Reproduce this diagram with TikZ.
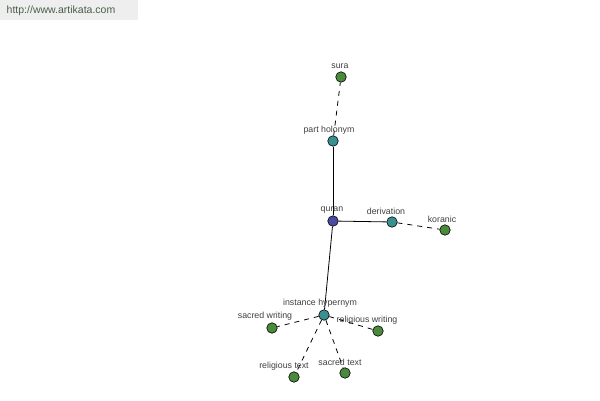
\documentclass[tikz,border=0pt]{standalone}
\usepackage{fontspec}
\setmainfont{Liberation Sans}
\usetikzlibrary{positioning}
\definecolor{qblue}{HTML}{4B4BA0}
\definecolor{qteal}{HTML}{3A9090}
\definecolor{qgreen}{HTML}{4A8A3A}
\definecolor{qtext}{HTML}{404040}
\definecolor{qhead}{HTML}{EEEEEE}
\definecolor{qurl}{HTML}{4A5E4A}
\tikzset{word/.style = {circle, draw=black, line width=0.6pt, minimum size=10.5pt, inner sep=0pt},
         lab/.style = {text=qtext, font=\fontsize{8.8}{10}\selectfont, inner sep=0pt},
         link/.style = {line width=0.8pt},
         loose/.style = {line width=0.8pt, dash pattern=on 5pt off 5pt}}

\begin{document}
\begin{tikzpicture}[x=1pt, y=-1pt]
    \useasboundingbox (0, 0) rectangle (600, 400);
    \fill [qhead] (0, 0) rectangle (138, 20);
    \node [text=qurl, font=\fontsize{10.5}{12}\selectfont] (url) at (61, 11) {http://www.artikata.com};

    \node [word, fill=qblue] (quran) at (333, 221) {};
    \node [word, fill=qteal] (part) at (333, 141) {};
    \node [word, fill=qgreen] (sura) at (341, 77) {};
    \node [word, fill=qteal] (deriv) at (392, 222) {};
    \node [word, fill=qgreen] (koranic) at (445, 230) {};
    \node [word, fill=qteal] (inst) at (324, 315) {};
    \node [word, fill=qgreen] (sacwri) at (272, 328) {};
    \node [word, fill=qgreen] (relwri) at (378, 331) {};
    \node [word, fill=qgreen] (reltxt) at (294, 377) {};
    \node [word, fill=qgreen] (sactxt) at (345, 373) {};

    \draw [link] (quran) -- (part);
    \draw [link] (quran) -- (deriv);
    \draw [link] (quran) -- (inst);
    \draw [loose] (part) -- (sura);
    \draw [loose] (deriv) -- (koranic);
    \draw [loose] (inst) -- (sacwri);
    \draw [loose] (inst) -- (relwri);
    \draw [loose] (inst) -- (reltxt);
    \draw [loose] (inst) -- (sactxt);

    \node [lab] (lquran) at (332, 210) {quran};
    \node [lab] (lpart) at (329, 130) {part holonym};
    \node [lab] (lsura) at (340, 66) {sura};
    \node [lab] (lderiv) at (386, 211) {derivation};
    \node [lab] (lkoranic) at (442, 219) {koranic};
    \node [lab] (linst) at (320, 303) {instance hypernym};
    \node [lab] (lsacwri) at (265, 316) {sacred writing};
    \node [lab] (lrelwri) at (367, 320) {religious writing};
    \node [lab] (lreltxt) at (284, 366) {religious text};
    \node [lab] (lsactxt) at (340, 362) {sacred text};
\end{tikzpicture}
\end{document}
